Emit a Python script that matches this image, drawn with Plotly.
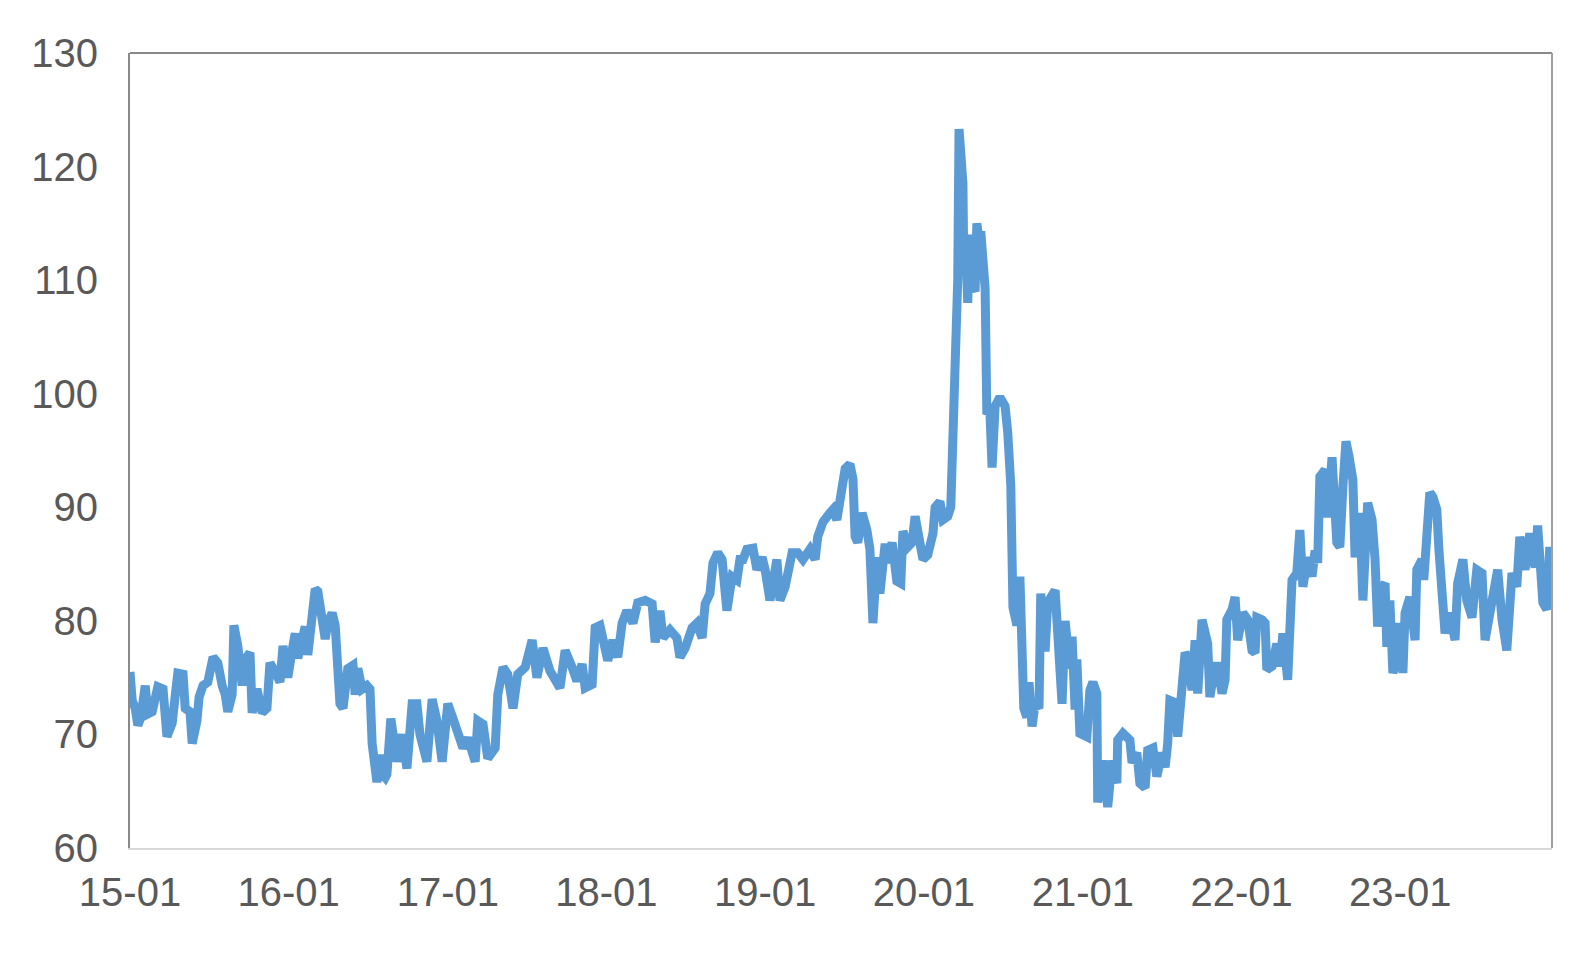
import pandas as pd
import plotly.graph_objects as go

# Days since 2015-01-01 for each reading, and the index value
days_since_2015_01_01 = [
    0, 5, 12, 18, 25, 35, 41, 51, 64, 76, 85, 97, 104, 110, 122, 127, 138, 143, 154, 159,
    168, 179, 191, 202, 212, 219, 225, 235, 239, 248, 258, 265, 276, 281, 292, 304, 315, 322, 334, 345,
    352, 363, 373, 380, 386, 396, 403, 409, 419, 426, 432, 442, 449, 455, 465, 472, 476, 483, 490, 501,
    513, 518, 524, 534, 545, 552, 557, 564, 568, 575, 580, 587, 591, 600, 614, 626, 637, 649, 660, 667,
    683, 695, 706, 718, 731, 743, 754, 766, 777, 794, 800, 812, 823, 840, 846, 858, 869, 881, 892, 909,
    925, 936, 950, 966, 989, 1001, 1017, 1028, 1040, 1047, 1063, 1070, 1081, 1093, 1099, 1111, 1122, 1132, 1143, 1157,
    1168, 1185, 1201, 1208, 1219, 1226, 1242, 1258, 1265, 1277, 1293, 1304, 1316, 1323, 1334, 1341, 1352, 1362, 1373, 1385,
    1396, 1403, 1410, 1419, 1433, 1442, 1454, 1461, 1472, 1488, 1495, 1507, 1523, 1536, 1548, 1564, 1576, 1582, 1594, 1610,
    1617, 1626, 1638, 1645, 1656, 1663, 1668, 1674, 1684, 1695, 1702, 1709, 1718, 1725, 1737, 1743, 1753, 1764, 1773, 1778,
    1789, 1799, 1806, 1817, 1824, 1835, 1847, 1852, 1863, 1870, 1881, 1888, 1893, 1898, 1902, 1904, 1907, 1911, 1916, 1918,
    1923, 1927, 1932, 1937, 1944, 1948, 1953, 1957, 1962, 1967, 1971, 1978, 1983, 1990, 2001, 2013, 2019, 2026, 2031, 2040,
    2047, 2052, 2056, 2063, 2068, 2075, 2082, 2091, 2095, 2105, 2111, 2128, 2134, 2144, 2151, 2162, 2167, 2174, 2178, 2185,
    2201, 2208, 2215, 2224, 2226, 2238, 2249, 2259, 2270, 2272, 2284, 2300, 2305, 2316, 2323, 2335, 2341, 2353, 2362, 2374,
    2381, 2387, 2392, 2404, 2410, 2420, 2427, 2433, 2443, 2450, 2456, 2466, 2473, 2479, 2484, 2496, 2502, 2512, 2519, 2523,
    2535, 2542, 2548, 2560, 2571, 2581, 2588, 2592, 2604, 2611, 2615, 2627, 2638, 2645, 2652, 2663, 2673, 2684, 2691, 2698,
    2709, 2719, 2726, 2732, 2737, 2749, 2755, 2765, 2776, 2783, 2790, 2797, 2804, 2813, 2818, 2829, 2836, 2847, 2857, 2864,
    2870, 2880, 2887, 2891, 2898, 2905, 2914, 2921, 2928, 2933, 2944, 2956, 2960, 2972, 2976, 2983, 2990, 2997, 3006, 3011,
    3018, 3025, 3036, 3048, 3054, 3066, 3075, 3087, 3098, 3110, 3117, 3128, 3146, 3156, 3167, 3179, 3190, 3197, 3209, 3220,
    3232, 3238, 3250, 3259, 3266, 3271,
]

index_values = [
    75.5, 73.0, 72.3, 70.8, 71.5, 74.3, 71.8, 72.0, 74.2, 74.0, 69.8, 71.0, 73.4, 75.4, 75.3, 72.3, 72.0, 69.2, 71.2, 73.3,
    74.3, 74.6, 76.8, 76.3, 74.3, 73.5, 72.0, 73.5, 79.6, 77.8, 74.3, 76.6, 77.2, 71.9, 74.0, 71.9, 72.3, 76.3, 75.5, 74.6,
    77.8, 75.0, 77.4, 78.9, 76.7, 78.3, 79.5, 77.0, 79.7, 82.8, 82.6, 80.7, 78.4, 79.8, 80.7, 79.6, 75.8, 72.7, 72.3, 75.8,
    76.1, 73.5, 75.8, 74.0, 74.3, 74.0, 69.2, 67.7, 65.8, 68.2, 66.5, 66.2, 66.5, 71.4, 67.6, 70.0, 67.0, 72.7, 72.7, 70.0,
    67.6, 73.1, 71.2, 67.6, 72.7, 71.4, 70.3, 68.8, 69.7, 67.6, 71.2, 70.9, 67.9, 68.8, 73.5, 75.9, 75.3, 72.3, 75.3, 75.9,
    78.3, 75.0, 77.6, 75.6, 74.1, 77.4, 75.9, 74.7, 76.2, 74.1, 74.4, 79.4, 79.6, 77.6, 76.5, 78.3, 76.8, 79.8, 80.9, 79.8,
    81.6, 81.8, 81.5, 78.1, 80.9, 78.5, 79.2, 78.5, 76.8, 77.6, 79.4, 79.8, 78.5, 81.5, 82.4, 85.1, 86.0, 85.4, 80.9, 83.9,
    83.6, 85.4, 85.4, 86.3, 86.4, 84.5, 85.6, 84.5, 81.8, 85.4, 81.8, 83.0, 86.0, 86.0, 85.4, 86.3, 85.4, 87.4, 88.7, 89.5,
    89.8, 88.9, 91.6, 93.4, 93.8, 92.5, 87.4, 86.9, 89.5, 88.0, 86.3, 79.8, 85.6, 82.4, 86.8, 85.1, 86.9, 83.5, 83.3, 87.9,
    86.5, 86.9, 89.2, 86.9, 85.4, 85.8, 87.7, 90.0, 90.5, 88.9, 89.2, 90.0, 95.0, 99.5, 103.5, 110.0, 123.3, 121.0, 118.5, 111.0,
    112.5, 108.0, 114.0, 109.5, 109.0, 115.0, 113.5, 114.3, 109.5, 109.3, 98.2, 98.5, 93.5, 98.9, 99.7, 98.9, 96.6, 92.0, 81.2, 79.6,
    83.9, 77.7, 72.3, 71.5, 74.6, 70.7, 72.7, 72.3, 82.4, 77.3, 81.6, 82.7, 77.3, 72.7, 80.0, 75.8, 78.6, 72.2, 76.6, 70.1,
    69.8, 73.9, 74.6, 73.6, 64.0, 67.7, 63.6, 67.7, 65.7, 69.5, 70.1, 69.5, 67.5, 68.4, 65.7, 65.3, 68.6, 68.8, 66.3, 68.4,
    67.1, 69.2, 73.0, 72.8, 69.8, 73.9, 77.2, 76.8, 73.9, 78.3, 73.6, 80.1, 78.3, 78.0, 73.3, 76.0, 76.0, 73.6, 74.8, 80.1,
    81.0, 82.1, 78.3, 80.7, 80.1, 77.4, 77.2, 80.3, 80.1, 79.8, 75.7, 76.0, 78.0, 76.0, 78.9, 74.8, 83.6, 84.2, 88.0, 83.0,
    85.6, 83.9, 86.2, 85.1, 92.7, 93.3, 89.1, 94.4, 86.9, 86.5, 91.8, 95.8, 94.5, 92.4, 85.6, 89.5, 81.8, 90.4, 88.9, 85.4,
    79.5, 83.0, 83.3, 77.7, 81.8, 75.4, 76.6, 79.8, 75.4, 80.7, 82.1, 78.3, 84.5, 85.4, 83.6, 88.0, 91.3, 90.9, 89.8, 86.2,
    82.5, 78.9, 80.7, 78.3, 83.3, 85.4, 81.8, 80.3, 84.5, 84.2, 78.3, 80.3, 84.5, 80.1, 77.4, 84.2, 83.0, 87.4, 84.5, 87.7,
    84.7, 88.4, 81.6, 81.0, 86.5, 84.5,
]

y_ticks = [60, 70, 80, 90, 100, 110, 120, 130]

dates = pd.Timestamp("2015-01-01") + pd.to_timedelta(days_since_2015_01_01, unit="D")
x_end = dates[-1]

font_family = "Liberation Sans, Arial, sans-serif"
label_color = "#595959"

fig = go.Figure()
fig.add_trace(go.Scatter(
    x=dates, y=index_values, mode="lines",
    line=dict(color="#5B9BD5", width=9),
    hoverinfo="x+y", showlegend=False,
))

# the page body adds an 8px offset, so the figure is sized/margined to compensate
fig.update_layout(
    width=1573, height=954,
    margin=dict(l=122, r=29, t=45, b=114),
    paper_bgcolor="white", plot_bgcolor="white",
    font=dict(family=font_family, size=40, color=label_color),
    xaxis=dict(
        type="date", range=[dates[0], x_end],
        tick0="2015-01-01", dtick="M12", tickformat="%y-%m",
        showgrid=False, zeroline=False, ticks="",
        showline=True, linecolor="#d9d9d9", linewidth=2,
        ticklabelstandoff=8,
        tickfont=dict(size=40, color=label_color, family=font_family),
    ),
    yaxis=dict(
        range=[60, 130], tickvals=y_ticks,
        showgrid=False, zeroline=False, ticks="",
        showline=True, linecolor="#898989", linewidth=2,
        ticklabelstandoff=22,
        tickfont=dict(size=40, color=label_color, family=font_family),
    ),
)

# plot-area frame: top and right edges
fig.add_shape(type="line", xref="paper", yref="paper", x0=0, x1=1, y0=1, y1=1,
              line=dict(color="#898989", width=2))
fig.add_shape(type="line", xref="paper", yref="paper", x0=1, x1=1, y0=0, y1=1,
              line=dict(color="#a0a0a0", width=2))

fig.write_html("out.html")
